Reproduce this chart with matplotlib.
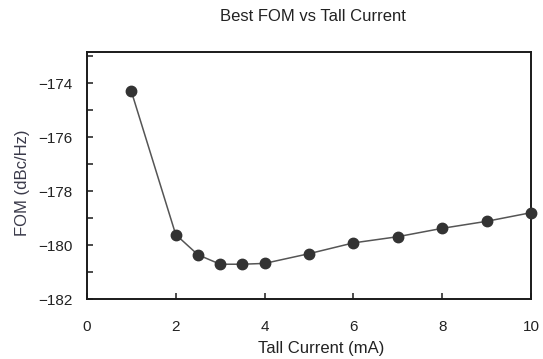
import matplotlib
matplotlib.use("Agg")
import matplotlib.pyplot as plt
from matplotlib.ticker import MultipleLocator, FuncFormatter

# Tail current sweep (mA) and best figure of merit (dBc/Hz)
tail_current_ma = [1, 2, 2.5, 3, 3.5, 4, 5, 6, 7, 8, 9, 10]
best_fom = [-174.30, -179.61, -180.36, -180.71, -180.71, -180.68,
            -180.32, -179.92, -179.69, -179.38, -179.12, -178.80]

x_ticks = [0, 2, 4, 6, 8, 10]
y_ticks = [-182, -180, -178, -176, -174]

plt.rcParams['font.family'] = ['Liberation Sans', 'DejaVu Sans']

fig = plt.figure(figsize=(5.43, 3.59), dpi=100)
ax = fig.add_axes([0.160, 0.167, 0.818, 0.688])

ax.plot(tail_current_ma, best_fom, color='#555555', linewidth=1.1, zorder=2)
ax.plot(tail_current_ma, best_fom, linestyle='none', marker='o',
        markersize=7.5, color='#333333', zorder=3, clip_on=False)

ax.set_xlim(0, 10)
ax.set_ylim(-182, -172.85)
ax.set_xticks(x_ticks)
ax.set_yticks(y_ticks)
ax.yaxis.set_minor_locator(MultipleLocator(1))
ax.yaxis.set_major_formatter(FuncFormatter(lambda v, p: f"\u2212{abs(int(v))}"))

for s in ax.spines.values():
    s.set_linewidth(1.4)
    s.set_color('#1a1a1a')

ax.tick_params(axis='both', which='both', direction='in', color='#1a1a1a',
               width=1.1, labelsize=11, labelcolor='#222222')
ax.tick_params(axis='both', which='major', length=4.5)
ax.tick_params(axis='y', which='minor', length=4.5)
ax.tick_params(axis='x', which='major', pad=15)
ax.tick_params(axis='y', which='major', pad=10)

ax.set_xlabel('Tall Current (mA)', fontsize=12, color='#222222', labelpad=5)
ax.xaxis.label.set_x(0.527)
ax.set_ylabel('FOM (dBc/Hz)', fontsize=12, color='#3a3a4a', labelpad=6)
ax.yaxis.label.set_y(0.472)
ax.set_title('Best FOM vs Tall Current', fontsize=12, color='#222222',
             pad=22, x=0.509)

fig.savefig('out.png', dpi=100)
